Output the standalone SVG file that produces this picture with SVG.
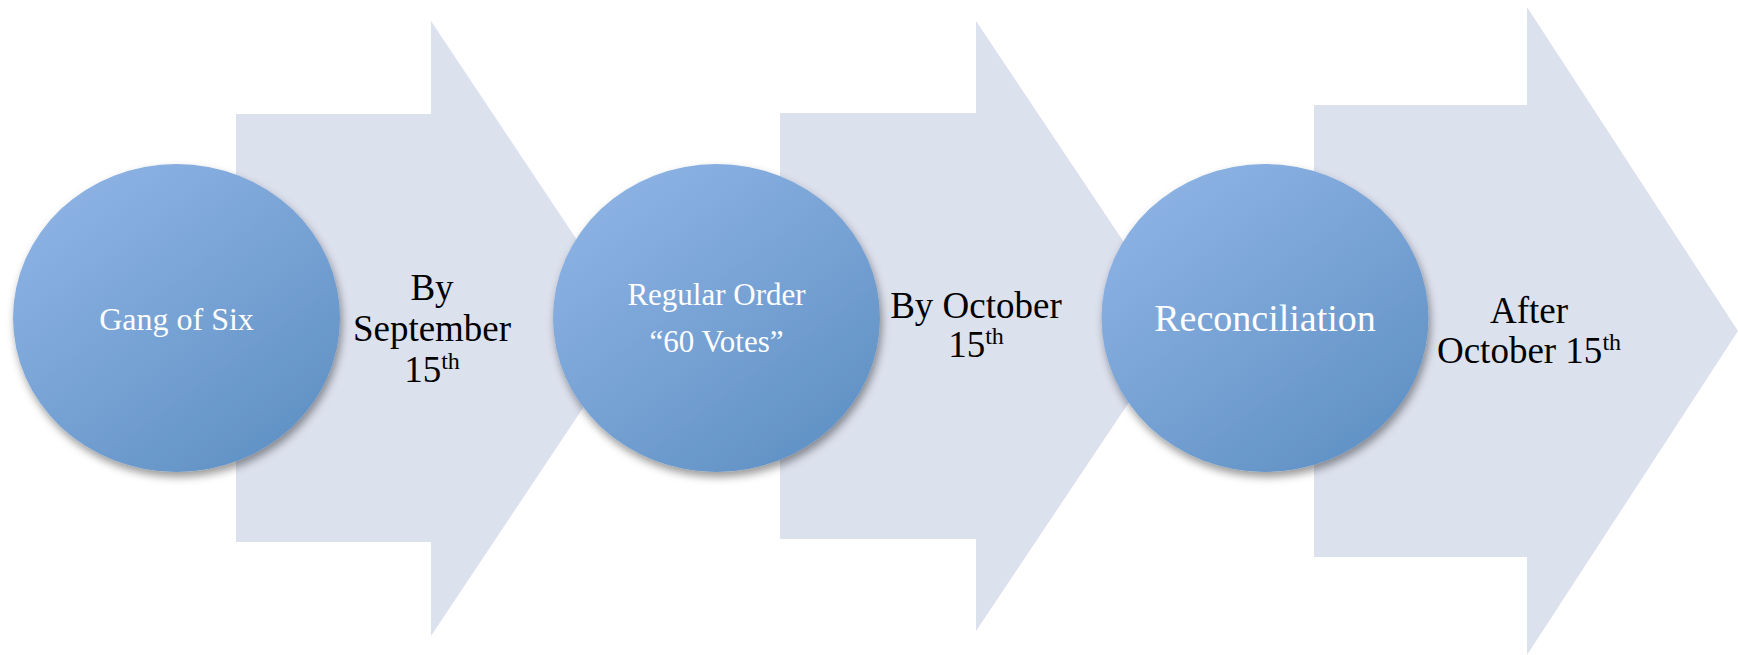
<svg xmlns="http://www.w3.org/2000/svg" width="1738" height="655" viewBox="0 0 1738 655">
  <defs>
    <linearGradient id="ballGrad" x1="0.15" y1="0.05" x2="0.85" y2="0.95">
      <stop offset="0" stop-color="#8EB3E5"/>
      <stop offset="1" stop-color="#6091C4"/>
    </linearGradient>
    <filter id="shadow" x="-20%" y="-20%" width="140%" height="140%">
      <feDropShadow dx="2" dy="5" stdDeviation="4" flood-color="#000" flood-opacity="0.4"/>
    </filter>
  </defs>
  <style>
    .arrow { fill: #DCE1EE; }
    .ball { fill: url(#ballGrad); filter: url(#shadow); }
    .sup { font-size: 24px; }
  </style>
  <rect width="1738" height="655" fill="#FFFFFF"/>
  <g id="connectors">
    <g id="arrow1">
      <polygon class="arrow" points="236,114 431,114 431,21 636,328.5 431,636 431,542 236,542"/>
    </g>
    <g id="arrow2">
      <polygon class="arrow" points="780,113 976,113 976,21 1180,326 976,631 976,539 780,539"/>
    </g>
    <g id="arrow3">
      <polygon class="arrow" points="1314,105 1527,105 1527,7 1738,331 1527,655 1527,557 1314,557"/>
    </g>
  </g>
  <g id="labels" font-family="'Liberation Serif', 'Times New Roman', serif" font-size="37" fill="#000000" text-anchor="middle">
    <text x="432" y="300">By</text>
    <text x="432" y="341">September</text>
    <text x="432" y="382">15<tspan class="sup" dy="-13">th</tspan></text>
    <text x="976" y="318">By October</text>
    <text x="976" y="357">15<tspan class="sup" dy="-13">th</tspan></text>
    <text x="1529" y="323">After</text>
    <text x="1529" y="363">October 15<tspan class="sup" dy="-13">th</tspan></text>
  </g>
  <g id="node1">
    <ellipse class="ball" cx="176.5" cy="318" rx="163.5" ry="154"/>
    <text x="176.5" y="330" font-family="'Liberation Serif', 'Times New Roman', serif" font-size="32" fill="#FFFFFF" text-anchor="middle">Gang of Six</text>
  </g>
  <g id="node2">
    <ellipse class="ball" cx="716.5" cy="318" rx="163.5" ry="154"/>
    <text x="716.5" y="305" font-family="'Liberation Serif', 'Times New Roman', serif" font-size="31" fill="#FFFFFF" text-anchor="middle">Regular Order</text>
    <text x="716.5" y="352" font-family="'Liberation Serif', 'Times New Roman', serif" font-size="31" fill="#FFFFFF" text-anchor="middle">“60 Votes”</text>
  </g>
  <g id="node3">
    <ellipse class="ball" cx="1265" cy="318" rx="163.5" ry="154"/>
    <text x="1265" y="331" font-family="'Liberation Serif', 'Times New Roman', serif" font-size="38" fill="#FFFFFF" text-anchor="middle">Reconciliation</text>
  </g>
</svg>
